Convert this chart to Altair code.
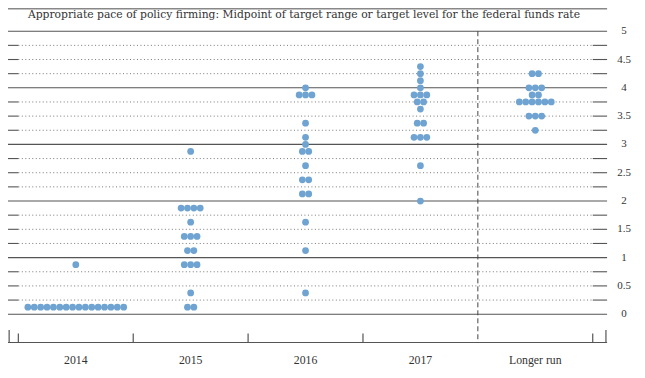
import altair as alt
import pandas as pd

# ---------------- data ----------------
years = ["2014", "2015", "2016", "2017", "Longer run"]

rate_2014 = [0.125, 0.875]
count_2014 = [16, 1]

rate_2015 = [0.125, 0.375, 0.875, 1.125, 1.375, 1.625, 1.875, 2.875]
count_2015 = [2, 1, 3, 2, 3, 1, 4, 1]

rate_2016 = [0.375, 1.125, 1.625, 2.125, 2.375, 2.625, 2.875, 3.0, 3.125, 3.375, 3.875, 4.0]
count_2016 = [1, 1, 1, 2, 2, 1, 2, 1, 1, 1, 3, 1]

rate_2017 = [2.0, 2.625, 3.125, 3.375, 3.625, 3.75, 3.875, 4.0, 4.125, 4.25, 4.375]
count_2017 = [1, 1, 3, 2, 1, 2, 3, 1, 1, 1, 1]

rate_lr = [3.25, 3.5, 3.75, 3.875, 4.0, 4.25]
count_lr = [1, 3, 6, 2, 3, 2]

y_labels = [0, 0.5, 1, 1.5, 2, 2.5, 3, 3.5, 4, 4.5, 5]
title_text = ("Appropriate pace of policy firming: Midpoint of target range "
              "or target level for the federal funds rate")

# ---------------- layout constants ----------------
X0, X1 = -0.59, 4.625          # plot x extent in column units
Y0, Y1 = -0.5, 5.4             # plot y extent in percent
W, H = 601, 335
DOT_STEP = 6.4 / 115.1         # horizontal spacing of stacked dots (column units)
DOT_COLOR = "#6fa3d1"
SERIF = "Liberation Serif"
TEXT_COLOR = "#333"

columns = [(rate_2014, count_2014), (rate_2015, count_2015), (rate_2016, count_2016),
           (rate_2017, count_2017), (rate_lr, count_lr)]
rows = []
for i, (rates, counts) in enumerate(columns):
    for r, n in zip(rates, counts):
        for j in range(n):
            rows.append({"x": i + (j - (n - 1) / 2) * DOT_STEP, "y": r, "year": years[i]})
dots = pd.DataFrame(rows)

xs = alt.Scale(domain=[X0, X1], nice=False, zero=False)
ys = alt.Scale(domain=[Y0, Y1], nice=False, zero=False)


def X(field="x"):
    return alt.X(f"{field}:Q", scale=xs, axis=None)


def Y(field="y"):
    return alt.Y(f"{field}:Q", scale=ys, axis=None)


quarters = [k / 4 for k in range(0, 21)]
integers = [q for q in quarters if q == int(q)]
fractions = [q for q in quarters if q != int(q)]

int_df = pd.DataFrame({"y": integers, "x": X0, "x2": X1})
dot_df = pd.DataFrame({"y": fractions, "x": -0.5, "x2": 4.5})
side_df = pd.DataFrame({"y": fractions * 2,
                        "x": [X0] * len(fractions) + [4.5] * len(fractions),
                        "x2": [-0.5] * len(fractions) + [X1] * len(fractions)})

int_lines = alt.Chart(int_df).mark_rule(color="#555", strokeWidth=1.1).encode(
    x=X(), x2="x2:Q", y=Y())

dotted = alt.Chart(dot_df).mark_rule(color="#777", strokeWidth=1, strokeDash=[1, 2.5]).encode(
    x=X(), x2="x2:Q", y=Y())

sides = alt.Chart(side_df).mark_rule(color="#555", strokeWidth=1.1).encode(
    x=X(), x2="x2:Q", y=Y())

vdash = alt.Chart(pd.DataFrame({"x": [3.5], "y": [5], "y2": [Y0]})).mark_rule(
    color="#444", strokeWidth=1, strokeDash=[5, 3]).encode(
    x=X(), y=Y(), y2="y2:Q")

bottom_line = alt.Chart(pd.DataFrame({"x": [X0], "x2": [X1], "y": [Y0]})).mark_rule(
    color="#555", strokeWidth=1.2).encode(x=X(), x2="x2:Q", y=Y())

tick_df = pd.DataFrame({"x": [X0 + 0.01, -0.5, 0.5, 1.5, 2.5, 4.5, X1 - 0.01],
                        "y": [-0.28, -0.34, -0.34, -0.34, -0.34, -0.34, -0.28],
                        "y2": [Y0] * 7})
bottom_ticks = alt.Chart(tick_df).mark_rule(color="#555", strokeWidth=1.2).encode(
    x=X(), y=Y(), y2="y2:Q")

top_line = alt.Chart(pd.DataFrame({"x": [X0], "x2": [X1], "y": [Y1]})).mark_rule(
    color="#888", strokeWidth=2).encode(x=X(), x2="x2:Q", y=Y())

title = alt.Chart(pd.DataFrame({"t": [title_text]})).mark_text(
    align="left", baseline="middle", font="DejaVu Serif", fontSize=10.8,
    color=TEXT_COLOR).encode(text="t:N", x=alt.value(20), y=alt.value(6))

year_df = pd.DataFrame({"x": list(range(len(years))), "label": years, "y": Y0})
year_labels = alt.Chart(year_df).mark_text(
    align="center", baseline="middle", dy=18, font=SERIF, fontSize=11.8,
    color=TEXT_COLOR).encode(x=X(), y=Y(), text="label:N")

ylab_df = pd.DataFrame({"y": y_labels, "label": [f"{v:g}" for v in y_labels], "x": X1})
rate_labels = alt.Chart(ylab_df).mark_text(
    align="center", baseline="middle", dx=17, font=SERIF, fontSize=11,
    color=TEXT_COLOR).encode(x=X(), y=Y(), text="label:N")

points = alt.Chart(dots).mark_circle(size=46, color=DOT_COLOR, opacity=1).encode(
    x=X(), y=Y())

chart = alt.layer(int_lines, dotted, sides, vdash, bottom_line, bottom_ticks,
                  top_line, points, title, year_labels, rate_labels).properties(
    width=W, height=H,
    padding={"left": 0, "top": 0, "right": 30, "bottom": 28},
    autosize=alt.AutoSizeParams(type="none"),
).configure_view(stroke=None)

chart.save("out.html", embed_options={"renderer": "svg", "actions": False})
